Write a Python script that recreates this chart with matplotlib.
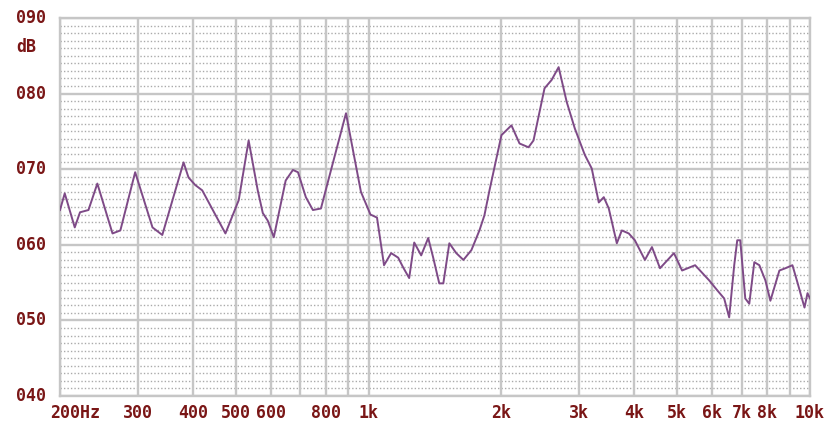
import numpy as np
import matplotlib.pyplot as plt
from matplotlib.transforms import blended_transform_factory

# Frequenzgang
freq = [200, 205, 216, 222, 232, 243, 263, 274, 296, 324, 341, 381, 391, 405, 420,
        474, 508, 535, 561, 576, 591, 610, 649, 674, 692, 721, 748, 780, 830, 889,
        922, 961, 1010, 1045, 1084, 1125, 1167, 1198, 1236, 1269, 1316, 1365, 1401,
        1446, 1477, 1524, 1580, 1640, 1710, 1783, 1830, 1879, 2000, 2107, 2198, 2303,
        2364, 2504, 2598, 2695, 2811, 2932, 3089, 3203, 3323, 3411, 3501, 3651, 3747,
        3886, 4011, 4227, 4385, 4573, 4918, 5131, 5492, 5909, 6161, 6391, 6560, 6735,
        6842, 6950, 7135, 7285, 7479, 7678, 7923, 8133, 8525, 8797, 9125, 9368, 9717,
        9871, 10000]
level = [64.6, 66.8, 62.3, 64.3, 64.6, 68.1, 61.5, 61.9, 69.6, 62.3, 61.3, 70.9, 68.9, 67.9, 67.2,
         61.5, 65.9, 73.8, 67.2, 64.2, 63.2, 61.0, 68.5, 69.9, 69.6, 66.3, 64.6, 64.8, 70.8, 77.4,
         72.5, 67.0, 64.0, 63.6, 57.3, 58.9, 58.3, 57.0, 55.6, 60.3, 58.6, 60.9, 58.3,
         54.9, 54.9, 60.2, 58.9, 58.0, 59.3, 61.9, 63.9, 67.2, 74.5, 75.8, 73.4, 72.9,
         73.8, 80.7, 81.8, 83.5, 78.9, 75.4, 71.9, 70.1, 65.6, 66.3, 64.8, 60.2, 61.9,
         61.5, 60.6, 58.0, 59.7, 56.9, 58.9, 56.6, 57.3, 55.3, 54.0, 52.9, 50.4, 57.3,
         60.6, 60.6, 52.9, 52.2, 57.7, 57.3, 55.3, 52.6, 56.6, 56.9, 57.3, 55.0, 51.7,
         53.6, 52.9]

grid_freqs = [200, 300, 400, 500, 600, 700, 800, 900, 1000, 2000, 3000, 4000,
              5000, 6000, 7000, 8000, 9000, 10000]
xtick_freqs = [200, 300, 400, 500, 600, 800, 1000, 2000, 3000, 4000, 5000, 6000, 7000, 8000, 10000]
xtick_labels = ["200Hz", "300", "400", "500", "600", "800", "1k", "2k", "3k", "4k",
                "5k", "6k", "7k", "8k", "10k"]
ytick_vals = [40, 50, 60, 70, 80, 90]
ytick_labels = ["040", "050", "060", "070", "080", "090"]

label_col = "#7a1616"
grid_col = "#c6c6c6"
lab_font = dict(family="DejaVu Sans Mono", weight="bold", size=12, color=label_col)

fig = plt.figure(figsize=(8.4, 4.3), dpi=100)
ax = fig.add_axes([60 / 840, 34 / 430, 750 / 840, 378 / 430])
ax.set_xscale("log")
ax.set_xlim(200, 10000)
ax.set_ylim(40, 90)

# gepunktete Linien je 1 dB
for v in range(41, 90):
    if v % 10:
        ax.axhline(v, color="#aaaaaa", lw=1.0, ls=(0, (1, 1.5)), zorder=1)
for v in ytick_vals:
    ax.axhline(v, color=grid_col, lw=1.7, zorder=2)
for f in grid_freqs:
    ax.axvline(f, color=grid_col, lw=1.7, zorder=2)

ax.plot(freq, level, color="#7e4a87", lw=1.4, zorder=3)

ax.set_xticks([])
ax.set_yticks([])
ax.minorticks_off()
for s in ax.spines.values():
    s.set_color(grid_col)
    s.set_linewidth(1.7)

# Achsenbeschriftung
tx = blended_transform_factory(ax.transData, ax.transAxes)
for f, lab in zip(xtick_freqs, xtick_labels):
    dx = 15 if lab == "200Hz" else 0
    ax.annotate(lab, xy=(f, 0), xycoords=tx, xytext=(dx * 0.72, -17 * 0.72),
                textcoords="offset points", ha="center", va="center",
                annotation_clip=False, **lab_font)
ty = blended_transform_factory(ax.transAxes, ax.transData)
for v, lab in zip(ytick_vals, ytick_labels):
    ax.annotate(lab, xy=(0, v), xycoords=ty, xytext=(-29 * 0.72, 0),
                textcoords="offset points", ha="center", va="center",
                annotation_clip=False, **lab_font)
ax.annotate("dB", xy=(0, 86.2), xycoords=ty, xytext=(-34 * 0.72, 0),
            textcoords="offset points", ha="center", va="center",
            annotation_clip=False, **lab_font)

fig.savefig("out.png", dpi=100)
